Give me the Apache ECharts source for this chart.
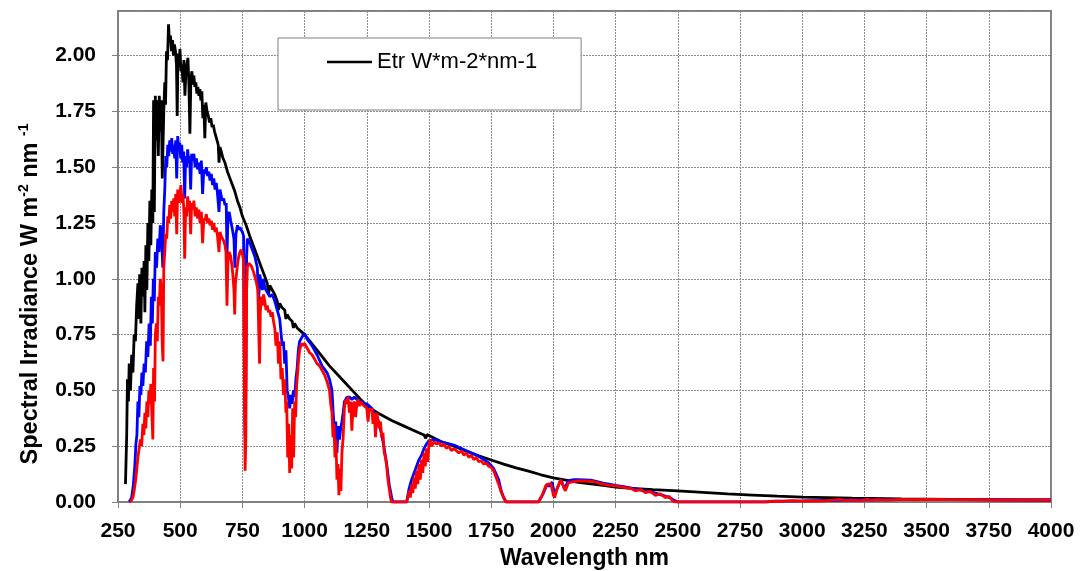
<!DOCTYPE html>
<html>
<head>
<meta charset="utf-8">
<script src="https://cdn.jsdelivr.net/npm/echarts@6/dist/echarts.min.js"></script>
<style>html,body{margin:0;padding:0;background:#fff}#c{width:1081px;height:571px}</style>
</head>
<body>
<div id="c"></div>
<script>
// ---- data ----
const xTicks = [250,500,750,1000,1250,1500,1750,2000,2250,2500,2750,3000,3250,3500,3750,4000];
const yTicks = [0,0.25,0.5,0.75,1,1.25,1.5,1.75,2];
const etrName = 'Etr W*m-2*nm-1';

const etrData = [
[280,0.08],[285,0.30],[288,0.55],[292,0.45],[295,0.62],[300,0.50],[305,0.66],[310,0.58],[315,0.75],[320,0.72],
[325,0.88],[330,0.98],[333,0.82],[337,1.02],[342,0.80],[346,1.05],[350,0.92],[355,1.08],[358,0.85],[362,1.15],
[366,0.95],[370,1.25],[374,1.08],[378,1.35],[382,1.15],[386,1.40],[390,1.25],[393,1.80],[396,1.30],[400,1.82],
[404,1.62],[408,1.80],[412,1.55],[416,1.82],[420,1.66],[424,1.80],[428,1.45],[431,1.60],[434,1.75],[438,1.88],
[441,1.78],[445,2.02],[449,1.98],[453,2.14],[457,2.06],[461,2.09],[465,2.02],[469,2.07],[473,2.00],[477,2.05],
[481,2.02],[485,1.96],[488,1.73],[491,2.01],[495,1.95],[499,2.03],[503,1.93],[507,1.96],[511,1.88],[515,1.98],
[519,1.82],[523,1.93],[527,1.96],[531,1.99],[535,1.87],[539,1.65],[543,1.90],[547,1.93],[551,1.87],[555,1.91],
[559,1.86],[563,1.88],[567,1.83],[571,1.86],[575,1.82],[579,1.85],[583,1.80],[587,1.84],[591,1.72],[595,1.78],
[599,1.63],[603,1.79],[608,1.75],[613,1.73],[618,1.70],[623,1.72],[628,1.68],[633,1.69],[638,1.66],[643,1.64],
[648,1.62],[653,1.60],[656,1.52],[660,1.59],[665,1.57],[672,1.54],[680,1.52],[690,1.48],[700,1.45],[710,1.42],
[720,1.39],[730,1.35],[740,1.32],[750,1.28],[765,1.24],[780,1.19],[800,1.13],[820,1.07],[840,1.01],[850,0.98],
[855,0.93],[860,0.97],[870,0.95],[880,0.93],[890,0.90],[895,0.86],[900,0.89],[910,0.87],[920,0.86],[925,0.82],
[930,0.84],[940,0.82],[950,0.81],[955,0.78],[960,0.80],[970,0.78],[980,0.77],[1000,0.75],[1050,0.68],[1100,0.61],
[1150,0.55],[1200,0.49],[1250,0.43],[1300,0.395],[1350,0.365],[1400,0.34],[1450,0.315],[1480,0.30],[1487,0.285],
[1492,0.302],[1500,0.298],[1550,0.27],[1600,0.25],[1650,0.228],[1700,0.207],[1750,0.188],[1800,0.17],[1850,0.153],
[1900,0.138],[1950,0.122],[2000,0.108],[2100,0.088],[2200,0.074],[2250,0.067],[2300,0.062],[2400,0.055],[2500,0.05],
[2600,0.043],[2700,0.036],[2800,0.031],[2900,0.026],[3000,0.022],[3200,0.017],[3400,0.014],[3600,0.012],[3800,0.010],
[4000,0.009]
];

const globalData = [
[295,0.00],[305,0.02],[312,0.08],[318,0.17],[322,0.26],[326,0.30],[330,0.45],[334,0.38],[338,0.52],[342,0.48],
[346,0.58],[350,0.52],[355,0.62],[360,0.58],[365,0.72],[370,0.65],[375,0.80],[380,0.70],[384,0.92],[388,0.80],
[392,1.00],[396,0.90],[400,1.12],[405,1.05],[410,1.18],[415,1.12],[420,1.24],[425,1.20],[430,1.05],[434,1.30],
[438,1.40],[442,1.55],[446,1.50],[450,1.60],[454,1.55],[458,1.62],[462,1.57],[466,1.63],[470,1.56],[474,1.60],
[478,1.54],[482,1.62],[486,1.45],[490,1.64],[494,1.58],[498,1.61],[502,1.54],[506,1.60],[510,1.52],[514,1.57],
[518,1.36],[522,1.55],[526,1.50],[530,1.58],[534,1.52],[538,1.55],[542,1.40],[546,1.56],[550,1.53],[555,1.56],
[560,1.50],[565,1.54],[570,1.49],[575,1.52],[580,1.47],[585,1.53],[590,1.38],[595,1.49],[600,1.47],[605,1.50],
[610,1.46],[615,1.48],[620,1.44],[625,1.47],[630,1.42],[635,1.45],[640,1.40],[645,1.43],[650,1.38],[656,1.30],
[660,1.40],[665,1.37],[670,1.35],[675,1.36],[680,1.33],[685,1.34],[688,1.10],[692,1.28],[697,1.30],[703,1.26],
[710,1.22],[716,1.18],[720,1.05],[724,1.20],[730,1.24],[735,1.22],[740,1.23],[745,1.22],[750,1.21],[755,1.19],
[758,0.60],[761,0.30],[764,0.55],[767,1.10],[770,1.18],[780,1.16],[790,1.13],[800,1.10],[810,1.05],[815,0.90],
[820,1.02],[825,0.98],[830,0.95],[835,1.00],[840,0.96],[850,0.94],[860,0.92],[870,0.93],[880,0.90],[890,0.86],
[900,0.82],[905,0.76],[910,0.70],[915,0.72],[920,0.62],[925,0.68],[930,0.50],[935,0.47],[940,0.42],[945,0.48],
[950,0.44],[955,0.50],[960,0.47],[965,0.55],[970,0.60],[975,0.68],[980,0.72],[990,0.74],[1000,0.755],[1010,0.73],
[1030,0.70],[1050,0.66],[1070,0.61],[1090,0.58],[1100,0.55],[1110,0.50],[1115,0.40],[1120,0.32],[1125,0.36],[1130,0.22],
[1135,0.34],[1140,0.28],[1145,0.33],[1150,0.36],[1155,0.40],[1160,0.45],[1170,0.47],[1180,0.47],[1190,0.46],[1200,0.47],
[1210,0.46],[1220,0.45],[1230,0.45],[1240,0.44],[1250,0.44],[1260,0.43],[1270,0.42],[1280,0.40],[1290,0.38],[1300,0.35],
[1310,0.30],[1320,0.24],[1330,0.17],[1340,0.08],[1350,0.02],[1355,0.00],[1410,0.00],[1420,0.06],[1430,0.10],[1440,0.13],
[1450,0.16],[1460,0.19],[1470,0.21],[1480,0.24],[1490,0.26],[1500,0.275],[1520,0.28],[1550,0.27],[1600,0.255],[1650,0.23],
[1700,0.205],[1720,0.19],[1740,0.175],[1760,0.15],[1780,0.10],[1790,0.05],[1800,0.02],[1810,0.00],[1940,0.00],[1960,0.04],
[1975,0.08],[1985,0.07],[1995,0.09],[2005,0.03],[2015,0.06],[2030,0.10],[2045,0.06],[2060,0.095],[2080,0.10],[2100,0.10],
[2150,0.098],[2200,0.085],[2250,0.074],[2300,0.066],[2350,0.053],[2400,0.043],[2440,0.03],[2470,0.018],[2490,0.005],[2500,0.00],
[2850,0.00],[2900,0.004],[3000,0.005],[3200,0.009],[3400,0.011],[3600,0.011],[3800,0.010],[4000,0.009]
];

const directData = [
[300,0.00],[305,0.00],[310,0.02],[315,0.05],[320,0.09],[325,0.14],[330,0.20],[335,0.24],[340,0.28],[345,0.25],
[350,0.35],[354,0.30],[358,0.40],[362,0.33],[366,0.45],[370,0.38],[374,0.50],[378,0.44],[382,0.53],[386,0.40],
[390,0.28],[393,0.60],[397,0.45],[400,0.75],[404,0.80],[408,0.72],[412,0.92],[416,0.88],[420,1.00],[424,0.96],
[428,0.70],[431,0.63],[434,1.05],[438,1.12],[442,1.20],[446,1.18],[450,1.28],[454,1.25],[458,1.33],[462,1.27],
[466,1.35],[470,1.30],[474,1.36],[478,1.28],[482,1.38],[486,1.20],[490,1.40],[494,1.34],[498,1.38],[503,1.42],
[507,1.34],[511,1.38],[515,1.30],[518,1.09],[522,1.32],[526,1.28],[530,1.37],[534,1.30],[538,1.35],[542,1.20],
[546,1.34],[550,1.31],[555,1.35],[560,1.28],[565,1.32],[570,1.27],[575,1.31],[580,1.25],[585,1.30],[590,1.16],
[595,1.27],[600,1.26],[605,1.29],[610,1.25],[615,1.27],[620,1.24],[625,1.26],[630,1.22],[635,1.25],[640,1.21],
[645,1.23],[650,1.19],[656,1.12],[660,1.21],[665,1.19],[670,1.18],[675,1.17],[680,1.15],[684,1.12],[688,0.88],
[692,1.08],[697,1.12],[703,1.10],[708,1.06],[713,1.00],[716,0.95],[719,0.84],[722,0.98],[726,1.02],[730,1.06],
[735,1.10],[740,1.12],[745,1.13],[750,1.11],[755,1.08],[758,0.50],[761,0.14],[764,0.30],[767,0.95],[770,1.05],
[775,1.07],[785,1.06],[795,1.03],[805,0.99],[812,0.95],[816,0.75],[819,0.62],[822,0.85],[826,0.92],[830,0.88],
[835,0.93],[840,0.90],[845,0.86],[850,0.88],[855,0.85],[860,0.86],[865,0.83],[870,0.85],[875,0.81],[880,0.78],
[885,0.70],[890,0.76],[895,0.62],[900,0.72],[905,0.55],[910,0.60],[915,0.48],[920,0.55],[925,0.40],[928,0.45],
[932,0.20],[936,0.35],[940,0.13],[944,0.30],[948,0.15],[952,0.42],[956,0.20],[960,0.45],[964,0.38],[968,0.52],
[972,0.58],[976,0.64],[980,0.68],[985,0.70],[990,0.71],[995,0.70],[1000,0.71],[1010,0.69],[1020,0.67],[1030,0.66],
[1040,0.64],[1050,0.62],[1060,0.61],[1070,0.59],[1080,0.57],[1090,0.54],[1100,0.50],[1105,0.44],[1110,0.40],[1114,0.29],
[1118,0.35],[1122,0.20],[1126,0.28],[1130,0.10],[1134,0.17],[1138,0.03],[1142,0.15],[1146,0.05],[1150,0.22],[1155,0.29],
[1160,0.42],[1165,0.46],[1170,0.44],[1175,0.47],[1180,0.40],[1185,0.45],[1190,0.32],[1195,0.44],[1200,0.45],[1205,0.38],
[1210,0.44],[1215,0.46],[1220,0.43],[1225,0.45],[1230,0.44],[1240,0.43],[1250,0.42],[1255,0.36],[1260,0.42],[1265,0.41],
[1270,0.42],[1275,0.35],[1280,0.40],[1285,0.29],[1290,0.40],[1295,0.37],[1300,0.33],[1305,0.36],[1310,0.29],[1315,0.31],
[1320,0.22],[1325,0.20],[1330,0.16],[1335,0.10],[1340,0.06],[1345,0.02],[1350,0.00],[1410,0.00],[1415,0.02],[1420,0.05],
[1425,0.02],[1430,0.08],[1435,0.04],[1440,0.11],[1445,0.06],[1450,0.14],[1455,0.08],[1460,0.17],[1465,0.10],[1470,0.19],
[1475,0.13],[1480,0.22],[1485,0.16],[1490,0.24],[1495,0.18],[1500,0.26],[1505,0.28],[1510,0.25],[1520,0.27],[1530,0.26],
[1540,0.265],[1550,0.25],[1560,0.26],[1570,0.24],[1580,0.25],[1590,0.23],[1600,0.24],[1610,0.23],[1620,0.22],[1630,0.23],
[1640,0.21],[1650,0.22],[1660,0.20],[1670,0.21],[1680,0.19],[1690,0.20],[1700,0.18],[1710,0.185],[1720,0.17],[1730,0.175],
[1740,0.16],[1750,0.155],[1760,0.14],[1770,0.11],[1780,0.08],[1790,0.045],[1800,0.02],[1810,0.00],[1940,0.00],[1955,0.03],
[1970,0.075],[1980,0.08],[1990,0.082],[2000,0.03],[2005,0.02],[2015,0.06],[2030,0.10],[2040,0.07],[2048,0.05],[2060,0.085],
[2075,0.09],[2100,0.095],[2130,0.094],[2160,0.092],[2190,0.082],[2220,0.076],[2250,0.072],[2280,0.066],[2310,0.062],[2330,0.05],
[2350,0.056],[2370,0.042],[2390,0.048],[2410,0.03],[2430,0.036],[2450,0.02],[2465,0.025],[2480,0.005],[2490,0.00],[2860,0.00],
[2880,0.004],[2920,0.003],[2960,0.006],[3000,0.004],[3040,0.005],[3080,0.004],[3120,0.008],[3150,0.012],[3170,0.006],[3200,0.01],
[3230,0.005],[3260,0.012],[3280,0.007],[3300,0.011],[3340,0.008],[3400,0.012],[3450,0.010],[3500,0.012],[3600,0.011],[3700,0.010],
[3800,0.009],[3900,0.009],[4000,0.009]
];

const FONT = '"Liberation Sans", Arial, sans-serif';
const chart = echarts.init(document.getElementById('c'), null, {renderer: 'canvas'});
chart.setOption({
  animation: false,
  backgroundColor: '#fff',
  grid: {left: 118, right: 30, top: 11, bottom: 69, show: true, borderColor: '#808080', borderWidth: 2,
    containLabel: false, outerBoundsMode: 'none'},
  legend: {
    data: [etrName], left: 278, top: 38, icon: 'rect',
    backgroundColor: '#fff', borderColor: '#808080', borderWidth: 1,
    padding: [13, 44, 37, 49], itemWidth: 45, itemHeight: 2.5, itemGap: 5,
    textStyle: {fontFamily: FONT, fontSize: 22, color: '#000', padding: [0, 0, 0, 0]}
  },
  xAxis: {
    type: 'value', min: xTicks[0], max: xTicks[xTicks.length - 1], interval: 250,
    name: 'Wavelength nm', nameLocation: 'middle', nameGap: 45,
    nameTextStyle: {fontFamily: FONT, fontSize: 23, fontWeight: 'bold', color: '#000'},
    axisLine: {show: true, lineStyle: {color: '#808080', width: 2}},
    axisTick: {show: true, length: 6, lineStyle: {color: '#808080', width: 1}},
    axisLabel: {margin: 19, fontFamily: FONT, fontSize: 21, fontWeight: 'bold', color: '#000',
      formatter: v => String(v)},
    splitLine: {show: true, lineStyle: {color: '#8c8c8c', width: 1, type: [2, 1]}}
  },
  yAxis: {
    type: 'value', min: 0, max: 2.2, interval: 0.25,
    axisLine: {show: true, lineStyle: {color: '#808080', width: 2}},
    axisTick: {show: true, length: 6, lineStyle: {color: '#808080', width: 1}},
    axisLabel: {margin: 22, showMaxLabel: false, fontFamily: FONT, fontSize: 21, fontWeight: 'bold', color: '#000',
      formatter: v => v.toFixed(2)},
    splitLine: {show: true, lineStyle: {color: '#8c8c8c', width: 1, type: [2, 1]}}
  },
  graphic: [{
    type: 'text', x: 30, y: 294, rotation: Math.PI / 2,
    style: {
      text: '{a|Spectral Irradiance W m}{s|-2}{a| nm }{s|-1}',
      textAlign: 'center', textVerticalAlign: 'middle', fill: '#000',
      rich: {
        a: {fontFamily: FONT, fontSize: 23.5, fontWeight: 'bold', lineHeight: 26, verticalAlign: 'bottom'},
        s: {fontFamily: FONT, fontSize: 14, fontWeight: 'bold', lineHeight: 26, verticalAlign: 'top'}
      }
    }
  }],
  series: [
    {name: etrName, type: 'line', data: etrData, symbol: 'none', lineStyle: {color: '#000', width: 2.8}, itemStyle: {color: '#000'}, z: 2},
    {name: 'Global', type: 'line', data: globalData, symbol: 'none', lineStyle: {color: '#0000ff', width: 2.8}, itemStyle: {color: '#0000ff'}, z: 3},
    {name: 'Direct', type: 'line', data: directData, symbol: 'none', lineStyle: {color: '#ff0000', width: 2.8}, itemStyle: {color: '#ff0000'}, z: 4}
  ]
});
</script>
</body>
</html>
